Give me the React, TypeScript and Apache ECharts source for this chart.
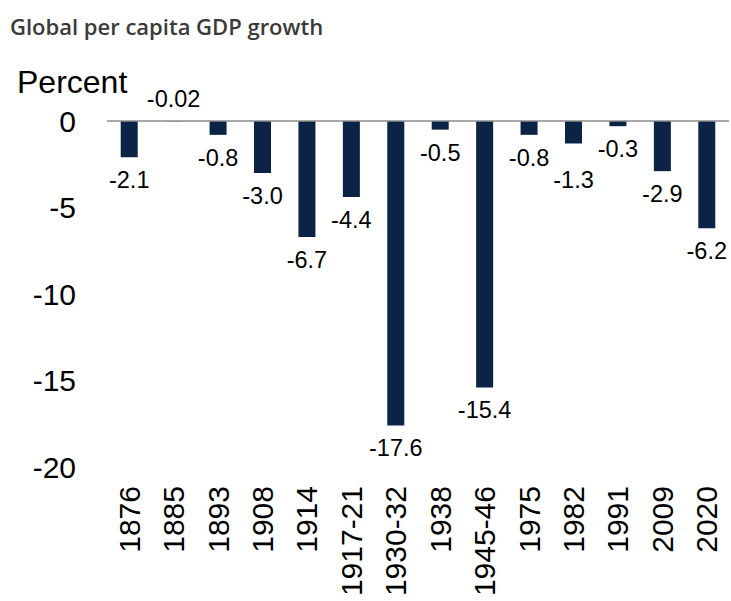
import React, { useEffect, useRef } from "react";
import * as echarts from "echarts";

const categories = ["1876", "1885", "1893", "1908", "1914", "1917-21", "1930-32", "1938", "1945-46", "1975", "1982", "1991", "2009", "2020"];
const values = [-2.1, -0.02, -0.8, -3.0, -6.7, -4.4, -17.6, -0.5, -15.4, -0.8, -1.3, -0.3, -2.9, -6.2];
const yTicks = { min: -20, max: 0, interval: 5 };
const title = "Global per capita GDP growth";
const unitLabel = "Percent";

// label nudges (styling only)
const labelNudge: Record<string, number> = { "1982": 14 };

const fmt = (v: number) => (Math.round(v * 10) === v * 10 ? v.toFixed(1) : v.toFixed(2));

export default function App() {
  const ref = useRef<HTMLDivElement>(null);
  useEffect(() => {
    if (!ref.current) return;
    const chart = echarts.init(ref.current, null, { renderer: "svg" });
    const font = "Liberation Sans, Arial, sans-serif";
    chart.setOption({
      animation: false,
      backgroundColor: "#ffffff",
      grid: { left: 107, right: 2, top: 121, bottom: 134, containLabel: false },
      graphic: [
        {
          type: "text",
          left: 10,
          top: 15,
          style: { text: title, fontFamily: "Open Sans, Lato, sans-serif", fontSize: 22, fontWeight: 600, fill: "#3b3a39" },
        },
        {
          type: "text",
          left: 17,
          top: 66,
          style: { text: unitLabel, fontFamily: font, fontSize: 32, fill: "#000" },
        },
      ],
      xAxis: {
        type: "category",
        data: categories,
        position: "bottom",
        axisLine: { show: false, onZero: false },
        axisTick: { show: false },
        axisLabel: { rotate: 90, margin: 19, fontSize: 30, fontFamily: font, color: "#000", interval: 0 },
      },
      yAxis: {
        type: "value",
        min: yTicks.min,
        max: yTicks.max,
        interval: yTicks.interval,
        axisLine: { show: false },
        axisTick: { show: false },
        splitLine: { show: false },
        axisLabel: { margin: 31, fontSize: 30, fontFamily: font, color: "#000" },
      },
      series: [
        {
          type: "bar",
          barWidth: 17,
          itemStyle: { color: "#0b2445" },
          data: values.map((v, i) => {
            if (v > -0.1) return { value: v, label: { position: "top", distance: 10 } };
            const n = labelNudge[categories[i]];
            return n ? { value: v, label: { offset: [0, n] } } : { value: v };
          }),
          label: {
            show: true,
            position: "bottom",
            distance: 11,
            fontSize: 23.5,
            fontFamily: font,
            color: "#000",
            formatter: (p: any) => fmt(p.value),
          },
          markLine: {
            silent: true,
            symbol: "none",
            label: { show: false },
            lineStyle: { color: "#8c8c8c", width: 1.5, type: "solid" },
            data: [{ yAxis: 0 }],
          },
        },
      ],
    });
    return () => chart.dispose();
  }, []);
  return <div ref={ref} style={{ position: "absolute", left: 0, top: 0, width: 731, height: 601 }} />;
}
